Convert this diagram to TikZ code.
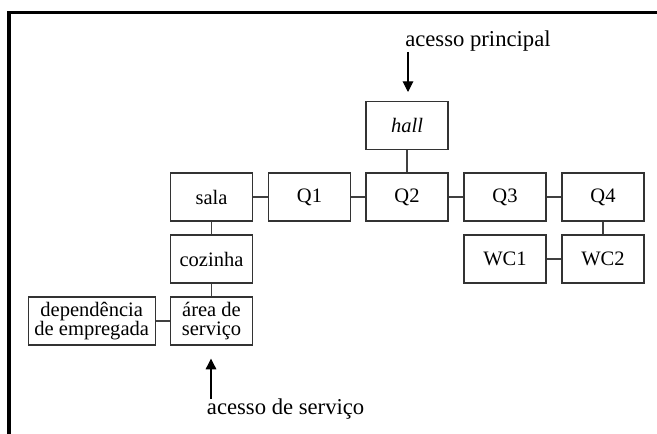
\documentclass[tikz,border=0pt]{standalone}
\usepackage{fontspec}
\setmainfont{Liberation Serif}
\usetikzlibrary{arrows.meta}
\begin{document}
\begin{tikzpicture}[>={Triangle[length=8pt,width=8pt]},x=0.75pt,y=-0.75pt,
    room/.style={draw=black!80,line width=0.8pt,minimum width=61.5pt,minimum height=36pt,
      inner sep=1pt,align=center,font=\fontsize{15.4}{14.5}\selectfont},
    link/.style={draw=black!75,line width=0.8pt},
    acesso/.style={anchor=base west,inner sep=0pt,font=\fontsize{17}{20}\selectfont},
    frame/.style={line width=2.6pt}]
    \useasboundingbox (0,0) rectangle (657,434);
    \draw[frame] (9.2,434) |- (657,12.5);
    % rooms
    \node[room] (hall) at (407,125.5) {\itshape hall};
    \node[room] (sala) at (211.5,197) {sala};
    \node[room] (q1) at (309.5,197) {Q1};
    \node[room] (q2) at (407,197) {Q2};
    \node[room] (q3) at (505,197) {Q3};
    \node[room] (q4) at (603,197) {Q4};
    \node[room] (cozinha) at (211.5,259) {cozinha};
    \node[room] (servico) at (211.5,321) {área de\\serviço};
    \node[room,minimum width=95pt] (dep) at (91.7,321) {dependência\\de empregada};
    \node[room] (wc1) at (505,259) {WC1};
    \node[room] (wc2) at (603,259) {WC2};
    % connections
    \draw[link] (sala) -- (q1);
    \draw[link] (q1) -- (q2);
    \draw[link] (q2) -- (q3);
    \draw[link] (q3) -- (q4);
    \draw[link] (hall) -- (q2);
    \draw[link] (q4) -- (wc2);
    \draw[link] (wc1) -- (wc2);
    \draw[link] (sala) -- (cozinha);
    \draw[link] (cozinha) -- (servico);
    \draw[link] (dep) -- (servico);
    % entrances
    \node[acesso] (principal) at (405,46.7) {acesso principal};
    \coordinate (pin) at (408,52);
    \coordinate (pend) at (408,92);
    \draw[->,line width=0.8pt] (pin) -- (pend);
    \node[acesso] (entrada) at (206.7,415) {acesso de serviço};
    \coordinate (sin) at (211,399);
    \coordinate (send) at (211,358.7);
    \draw[->,line width=0.8pt] (sin) -- (send);
\end{tikzpicture}
\end{document}
